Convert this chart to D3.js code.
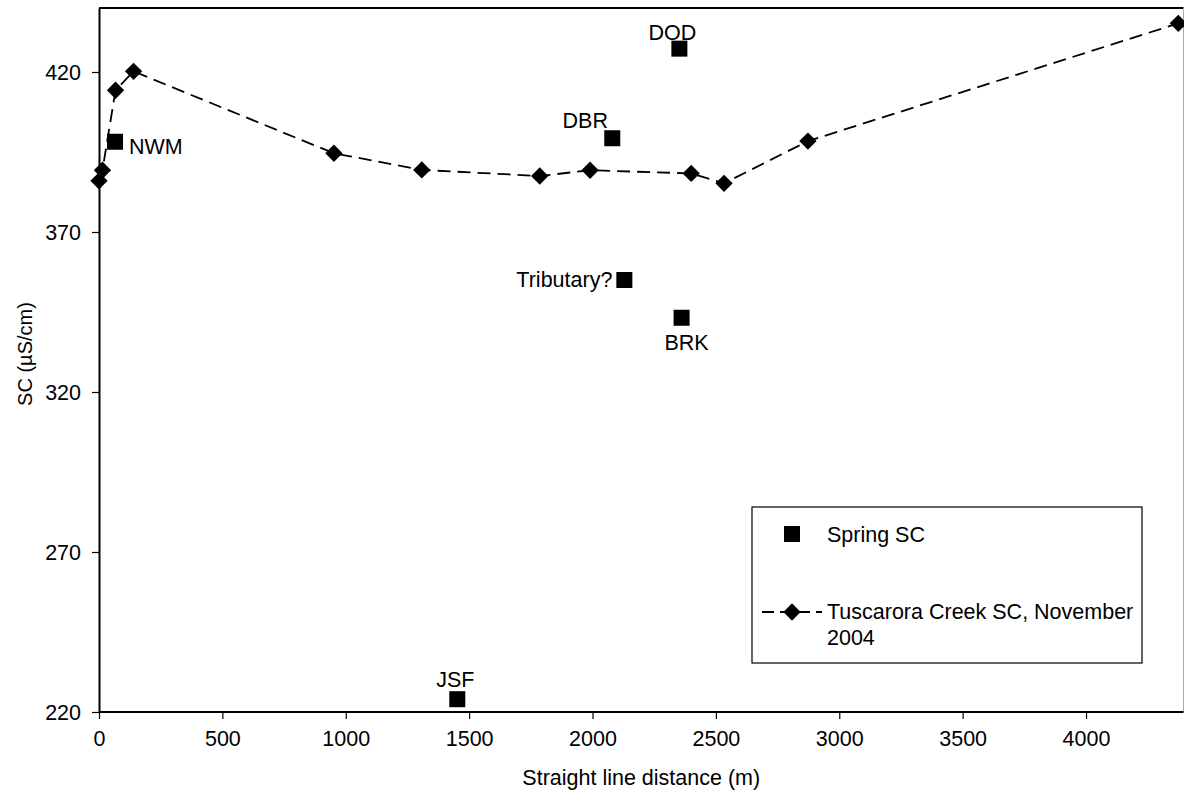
<!DOCTYPE html>
<html>
<head>
<meta charset="utf-8">
<script src="https://cdn.jsdelivr.net/npm/d3@7"></script>
<style>
  html, body { margin: 0; padding: 0; background: #fff; }
  svg { display: block; font-family: "Liberation Sans", Arial, sans-serif; }
</style>
</head>
<body>
<svg id="chart" width="1184" height="804"></svg>
<script>
// Tuscarora Creek specific conductance along the stream (November 2004)
const creekDistance = [0, 14, 67, 140, 952, 1308, 1786, 1990, 2400, 2533, 2873, 4374];
const creekSC       = [386.0, 389.3, 414.3, 420.2, 394.6, 389.4, 387.5, 389.3, 388.3, 385.2, 398.4, 435.2];

// Spring sampling sites
const springNames    = ["NWM", "JSF", "DBR", "Tributary?", "DOD", "BRK"];
const springDistance = [65, 1452, 2080, 2129, 2352, 2361];
const springSC       = [398.2, 224.0, 399.3, 355.0, 427.3, 343.2];

// Axis ticks
const xTicks = [0, 500, 1000, 1500, 2000, 2500, 3000, 3500, 4000];
const yTicks = [220, 270, 320, 370, 420];

// Label placement for each spring (offset from its marker, text anchor)
const labelPlacement = {
  "NWM":        { dx: 14,  dy: 12,  anchor: "start" },
  "JSF":        { dx: -2,  dy: -12, anchor: "middle" },
  "DBR":        { dx: -27, dy: -10, anchor: "middle" },
  "Tributary?": { dx: -12, dy: 7,   anchor: "end" },
  "DOD":        { dx: -7,  dy: -9,  anchor: "middle" },
  "BRK":        { dx: 5,   dy: 32,  anchor: "middle" }
};

const svg = d3.select("#chart");
const plotLeft = 99, plotRight = 1183.5, plotTop = 8, plotBottom = 712;

const x = d3.scaleLinear().domain([0, 4395]).range([plotLeft, plotRight]);
const y = d3.scaleLinear().domain([220, 440]).range([plotBottom, plotTop]);

const FONT = 21.5;

// Plot frame: top border dark, right border light
svg.append("line").attr("x1", plotLeft).attr("x2", plotRight).attr("y1", plotTop).attr("y2", plotTop)
  .attr("stroke", "#000").attr("stroke-width", 2);
svg.append("line").attr("x1", plotRight).attr("x2", plotRight).attr("y1", plotTop).attr("y2", plotBottom)
  .attr("stroke", "#aaa").attr("stroke-width", 1);

// Axes
const xAxis = svg.append("g").attr("transform", `translate(0,${plotBottom})`)
  .call(d3.axisBottom(x).tickValues(xTicks).tickFormat(d3.format("d"))
    .tickSize(7).tickPadding(12).tickSizeOuter(0));
const yAxis = svg.append("g").attr("transform", `translate(${plotLeft},0)`)
  .call(d3.axisLeft(y).tickValues(yTicks).tickFormat(d3.format("d"))
    .tickSize(7).tickPadding(11).tickSizeOuter(0));

[xAxis, yAxis].forEach(g => {
  g.select(".domain").attr("stroke", "#000").attr("stroke-width", 2);
  g.selectAll(".tick line").attr("stroke", "#000").attr("stroke-width", 1.2);
  g.selectAll(".tick text").attr("fill", "#000").attr("font-size", FONT)
    .attr("font-family", "Liberation Sans, Arial, sans-serif");
});
xAxis.select(".domain").attr("d", `M${plotLeft},0H${plotRight}`);
yAxis.selectAll(".tick text").attr("dy", "0.36em");

// Axis titles
svg.append("text").attr("x", (plotLeft + plotRight) / 2).attr("y", 785)
  .attr("text-anchor", "middle").attr("font-size", FONT).text("Straight line distance (m)");
svg.append("text").attr("transform", `translate(32,${(plotTop + plotBottom) / 2 - 6}) rotate(-90)`)
  .attr("text-anchor", "middle").attr("font-size", FONT - 1.5).text("SC (µS/cm)");

// Creek line
const creek = creekDistance.map((d, i) => ({ d, v: creekSC[i] }));
const line = d3.line().x(p => x(p.d)).y(p => y(p.v));
svg.append("path").datum(creek).attr("d", line)
  .attr("fill", "none").attr("stroke", "#000").attr("stroke-width", 1.8)
  .attr("stroke-dasharray", "13,7");

const diamond = d3.symbol().type(d3.symbolSquare).size(150);
svg.append("g").selectAll("path").data(creek).join("path")
  .attr("d", diamond)
  .attr("transform", p => `translate(${x(p.d)},${y(p.v)}) rotate(45)`)
  .attr("fill", "#000");

// Spring markers and labels
const springs = springNames.map((n, i) => ({ n, d: springDistance[i], v: springSC[i] }));
const SQ = 16;
svg.append("g").selectAll("rect").data(springs).join("rect")
  .attr("x", s => x(s.d) - SQ / 2).attr("y", s => y(s.v) - SQ / 2)
  .attr("width", SQ).attr("height", SQ).attr("fill", "#000");

svg.append("g").selectAll("text").data(springs).join("text")
  .attr("x", s => x(s.d) + labelPlacement[s.n].dx)
  .attr("y", s => y(s.v) + labelPlacement[s.n].dy)
  .attr("text-anchor", s => labelPlacement[s.n].anchor)
  .attr("font-size", FONT).attr("fill", "#000")
  .text(s => s.n);

// Legend
const lg = svg.append("g");
lg.append("rect").attr("x", 752).attr("y", 507).attr("width", 390).attr("height", 156)
  .attr("fill", "#fff").attr("stroke", "#000").attr("stroke-width", 1.2);
lg.append("rect").attr("x", 792 - SQ / 2).attr("y", 534 - SQ / 2)
  .attr("width", SQ).attr("height", SQ).attr("fill", "#000");
lg.append("text").attr("x", 827).attr("y", 542).attr("font-size", FONT).text("Spring SC");
lg.append("line").attr("x1", 762).attr("x2", 822).attr("y1", 612).attr("y2", 612)
  .attr("stroke", "#000").attr("stroke-width", 1.8).attr("stroke-dasharray", "12,6");
lg.append("path").attr("d", diamond).attr("transform", "translate(792,612) rotate(45)").attr("fill", "#000");
lg.append("text").attr("x", 827).attr("y", 619).attr("font-size", FONT).text("Tuscarora Creek SC, November");
lg.append("text").attr("x", 827).attr("y", 645).attr("font-size", FONT).text("2004");
</script>
</body>
</html>
